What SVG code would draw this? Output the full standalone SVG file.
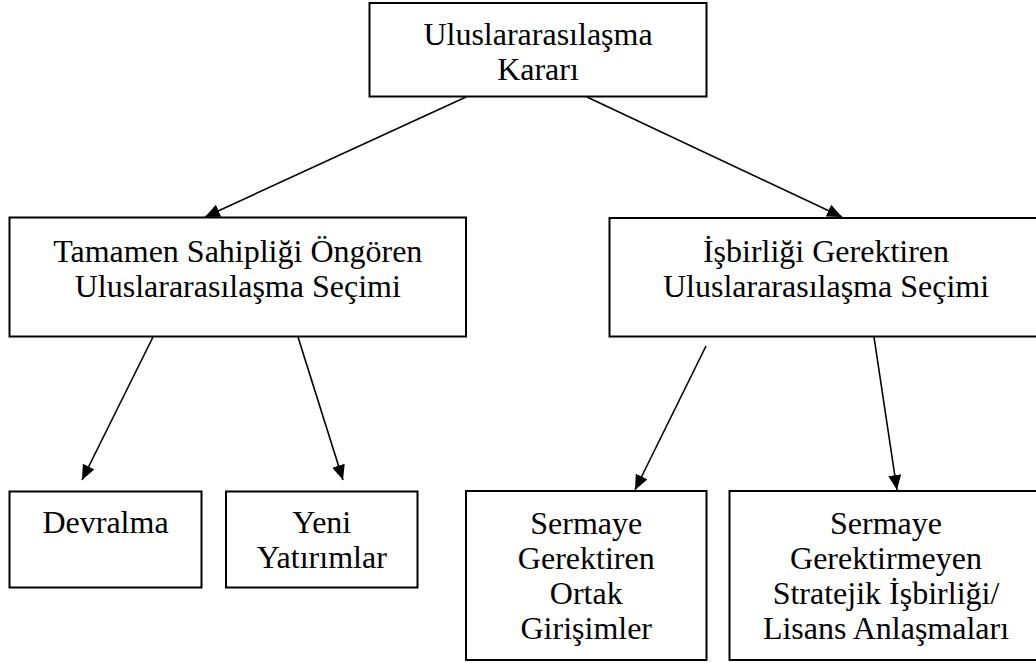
<svg xmlns="http://www.w3.org/2000/svg" width="1036" height="663" viewBox="0 0 1036 663">
  <style>
    .box { fill: #ffffff; stroke: #000000; stroke-width: 2; }
    .lbl { font-family: "Liberation Serif", "Times New Roman", serif; font-size: 32px; fill: #000000; text-anchor: middle; }
    .edge { fill: none; stroke: #000000; stroke-width: 1.6; marker-end: url(#arrow); }
  </style>
  <defs>
    <marker id="arrow" markerUnits="userSpaceOnUse" markerWidth="16" markerHeight="14" refX="15" refY="6.5" orient="auto">
      <path d="M0,0 L15,6.5 L0,13 z" fill="#000000"/>
    </marker>
  </defs>
  <rect width="1036" height="663" fill="#ffffff"/>

  <!-- Connectors -->
  <g id="connectors">
    <line class="edge" x1="466" y1="97" x2="205" y2="217"/>
    <line class="edge" x1="587" y1="97" x2="842" y2="217"/>
    <line class="edge" x1="153" y1="337" x2="82" y2="480"/>
    <line class="edge" x1="298" y1="337" x2="343" y2="480"/>
    <line class="edge" x1="706" y1="346" x2="635" y2="490"/>
    <line class="edge" x1="874" y1="337" x2="897" y2="490"/>
  </g>

  <!-- Root decision -->
  <g id="karar">
    <rect class="box" x="369.5" y="3" width="337" height="93.5"/>
    <text class="lbl" x="538" y="45">Uluslararasılaşma</text>
    <text class="lbl" x="538" y="80">Kararı</text>
  </g>

  <!-- Second level -->
  <g id="tam-sahiplik">
    <rect class="box" x="9.5" y="217.5" width="456.5" height="119"/>
    <text class="lbl" x="237.75" y="262">Tamamen Sahipliği Öngören</text>
    <text class="lbl" x="237.75" y="297">Uluslararasılaşma Seçimi</text>
  </g>
  <g id="isbirligi">
    <rect class="box" x="609.5" y="218" width="433" height="118.5"/>
    <text class="lbl" x="826" y="262">İşbirliği Gerektiren</text>
    <text class="lbl" x="826" y="297">Uluslararasılaşma Seçimi</text>
  </g>

  <!-- Third level -->
  <g id="devralma">
    <rect class="box" x="9.5" y="491.5" width="192" height="96"/>
    <text class="lbl" x="105.5" y="533">Devralma</text>
  </g>
  <g id="yeni-yatirimlar">
    <rect class="box" x="226" y="491.5" width="191.5" height="96"/>
    <text class="lbl" x="321.75" y="533">Yeni</text>
    <text class="lbl" x="321.75" y="568">Yatırımlar</text>
  </g>
  <g id="ortak-girisimler">
    <rect class="box" x="466" y="491" width="240.5" height="169"/>
    <text class="lbl" x="586.25" y="534">Sermaye</text>
    <text class="lbl" x="586.25" y="569">Gerektiren</text>
    <text class="lbl" x="586.25" y="604">Ortak</text>
    <text class="lbl" x="586.25" y="639">Girişimler</text>
  </g>
  <g id="stratejik-isbirligi">
    <rect class="box" x="729.5" y="491" width="313.5" height="169"/>
    <text class="lbl" x="886" y="534">Sermaye</text>
    <text class="lbl" x="886" y="569">Gerektirmeyen</text>
    <text class="lbl" x="886" y="604">Stratejik İşbirliği/</text>
    <text class="lbl" x="886" y="639">Lisans Anlaşmaları</text>
  </g>
</svg>
